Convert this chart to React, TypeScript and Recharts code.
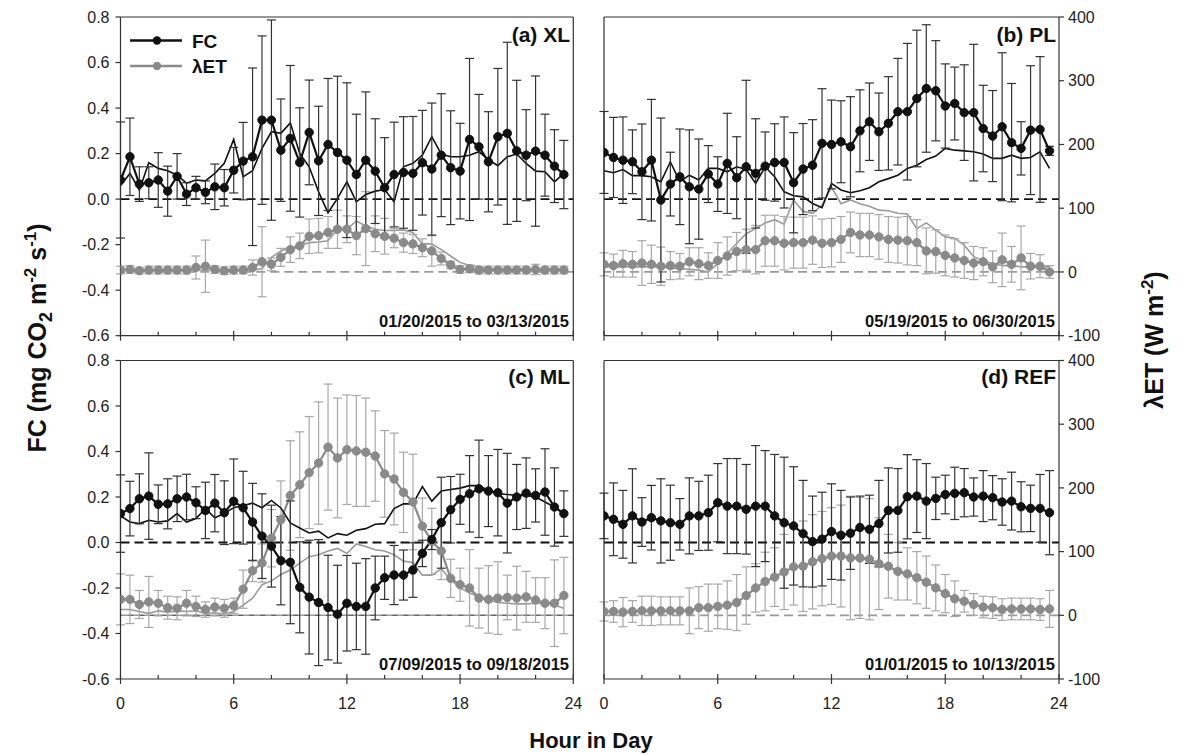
import React from "react";
import { ComposedChart, Line, XAxis, YAxis, ErrorBar, ReferenceLine } from "recharts";

// half-hourly bins of the mean diurnal course
const HOURS = [
  0, 0.5, 1, 1.5, 2, 2.5, 3, 3.5, 4, 4.5, 5, 5.5, 6, 6.5, 7, 7.5, 8, 8.5, 9, 9.5, 10, 10.5, 11, 11.5,
  12, 12.5, 13, 13.5, 14, 14.5, 15, 15.5, 16, 16.5, 17, 17.5, 18, 18.5, 19, 19.5, 20, 20.5, 21, 21.5,
  22, 22.5, 23, 23.5,
];

const HOUR_TICKS = [0, 2, 4, 6, 8, 10, 12, 14, 16, 18, 20, 22, 24];
const FC_TICKS = [-0.6, -0.4, -0.2, 0, 0.2, 0.4, 0.6, 0.8];
const ET_TICKS = [-100, 0, 100, 200, 300, 400];

// (a) XL
const XL_FC = [0.084, 0.186, 0.066, 0.072, 0.084, 0.035, 0.1, 0.022, 0.05, 0.03, 0.054, 0.05, 0.127, 0.167, 0.186, 0.347, 0.347, 0.215, 0.267, 0.161, 0.293, 0.168, 0.24, 0.205, 0.171, 0.108, 0.171, 0.123, 0.05, 0.108, 0.117, 0.113, 0.16, 0.132, 0.193, 0.138, 0.123, 0.262, 0.23, 0.164, 0.274, 0.289, 0.212, 0.193, 0.211, 0.193, 0.145, 0.108];
const XL_FC_SD = [0.255, 0.17, 0.076, 0.07, 0.12, 0.11, 0.1, 0.05, 0.05, 0.05, 0.1, 0.08, 0.1, 0.17, 0.39, 0.37, 0.44, 0.225, 0.32, 0.24, 0.23, 0.24, 0.29, 0.335, 0.34, 0.265, 0.3, 0.23, 0.22, 0.23, 0.245, 0.25, 0.23, 0.29, 0.27, 0.25, 0.21, 0.356, 0.23, 0.22, 0.3, 0.4, 0.31, 0.2, 0.33, 0.18, 0.16, 0.15];
const XL_FC_ALT = [0.06, 0.113, 0.04, 0.16, 0.135, 0.125, 0.105, 0.07, 0.084, 0.08, 0.113, 0.157, 0.262, 0.098, 0.125, 0.223, 0.296, 0.289, 0.335, 0.2, 0.142, 0.032, -0.06, 0.003, 0.076, -0.012, 0.02, 0.035, 0.042, -0.012, 0.142, 0.157, 0.193, 0.274, 0.198, 0.186, 0.186, 0.193, 0.208, 0.174, 0.147, 0.186, 0.198, 0.157, 0.123, 0.12, 0.076, 0.113];
const XL_ET = [3, 4, 2, 3, 3, 3, 3, 3, 7, 9, 4, 2, 3, 3, 7, 16, 12, 23, 35, 41, 56, 57, 62, 67, 67, 57, 68, 60, 56, 53, 46, 44, 38, 33, 21, 11, 4, 5, 3, 3, 3, 3, 3, 3, 4, 3, 3, 3];
const XL_ET_SD = [6, 6, 5, 6, 6, 6, 6, 6, 18, 41, 6, 6, 6, 6, 12, 55, 10, 14, 20, 20, 27, 27, 25, 30, 21, 30, 58, 28, 28, 15, 15, 15, 14, 24, 10, 6, 6, 6, 6, 6, 6, 6, 6, 6, 8, 6, 6, 6];
const XL_ET_ALT = [3, 3, 3, 3, 3, 3, 3, 3, 3, 3, 3, 3, 3, 3, 3, 5, 23, 33, 38, 41, 46, 47, 49, 67, 67, 80, 72, 67, 65, 65, 66, 62, 44, 44, 35, 25, 15, 10, 8, 5, 5, 5, 5, 5, 5, 5, 5, 5];

// (b) PL
const PL_FC = [0.205, 0.183, 0.171, 0.164, 0.12, 0.171, -0.004, 0.066, 0.098, 0.054, 0.044, 0.11, 0.066, 0.157, 0.094, 0.142, 0.113, 0.145, 0.161, 0.161, 0.072, 0.132, 0.149, 0.245, 0.24, 0.252, 0.23, 0.3, 0.34, 0.296, 0.333, 0.384, 0.384, 0.442, 0.486, 0.476, 0.409, 0.42, 0.38, 0.38, 0.31, 0.277, 0.318, 0.248, 0.223, 0.303, 0.306, 0.212];
const PL_FC_SD = [0.18, 0.176, 0.19, 0.14, 0.21, 0.267, 0.36, 0.14, 0.21, 0.25, 0.22, 0.125, 0.12, 0.22, 0.18, 0.38, 0.24, 0.15, 0.17, 0.2, 0.22, 0.2, 0.2, 0.24, 0.195, 0.18, 0.22, 0.18, 0.17, 0.17, 0.205, 0.234, 0.3, 0.3, 0.28, 0.22, 0.185, 0.16, 0.21, 0.3, 0.19, 0.2, 0.325, 0.26, 0.117, 0.283, 0.32, 0.02];
const PL_FC_ALT = [0.125, 0.116, 0.13, 0.103, 0.103, 0.098, 0.076, 0.164, 0.076, 0.105, 0.084, 0.135, 0.135, 0.12, 0.142, 0.13, 0.069, 0.142, 0.098, 0.032, 0.015, 0.01, -0.019, -0.038, 0.069, 0.04, 0.028, 0.037, 0.05, 0.076, 0.09, 0.105, 0.135, 0.149, 0.174, 0.189, 0.223, 0.215, 0.212, 0.208, 0.198, 0.179, 0.179, 0.193, 0.179, 0.183, 0.208, 0.135];
const PL_ET = [12, 10, 13, 12, 14, 12, 9, 10, 9, 16, 13, 10, 18, 25, 32, 35, 35, 49, 49, 45, 46, 46, 50, 45, 46, 51, 62, 58, 58, 55, 51, 50, 49, 46, 33, 32, 26, 22, 18, 14, 16, 8, 19, 12, 22, 9, 9, 0];
const PL_ET_SD = [18, 18, 21, 20, 35, 30, 30, 22, 20, 22, 25, 20, 28, 30, 30, 32, 38, 40, 40, 42, 40, 40, 38, 38, 38, 36, 32, 34, 34, 35, 36, 36, 38, 36, 36, 34, 32, 30, 28, 26, 22, 25, 42, 28, 50, 20, 18, 10];
const PL_ET_ALT = [8, 8, 8, 8, 8, 8, 8, 6, 5, 4, 3, 0, 13, 29, 45, 60, 68, 77, 82, 75, 113, 95, 92, 105, 133, 107, 113, 107, 103, 97, 96, 92, 91, 68, 77, 66, 55, 53, 42, 24, 18, 13, 10, 10, 8, 8, 8, 8];

// (c) ML
const ML_FC = [0.127, 0.149, 0.192, 0.204, 0.168, 0.17, 0.192, 0.2, 0.175, 0.141, 0.173, 0.131, 0.181, 0.153, 0.09, 0.028, -0.016, -0.08, -0.087, -0.197, -0.24, -0.264, -0.286, -0.315, -0.267, -0.281, -0.281, -0.2, -0.155, -0.143, -0.143, -0.121, -0.048, 0.013, 0.087, 0.144, 0.19, 0.214, 0.236, 0.226, 0.219, 0.173, 0.2, 0.217, 0.207, 0.222, 0.156, 0.127];
const ML_FC_SD = [0.17, 0.12, 0.11, 0.19, 0.085, 0.11, 0.1, 0.1, 0.07, 0.124, 0.126, 0.14, 0.186, 0.16, 0.17, 0.186, 0.18, 0.194, 0.27, 0.2, 0.25, 0.277, 0.23, 0.215, 0.21, 0.19, 0.21, 0.14, 0.095, 0.13, 0.11, 0.12, 0.058, 0.044, 0.2, 0.146, 0.11, 0.168, 0.214, 0.156, 0.19, 0.219, 0.143, 0.155, 0.117, 0.19, 0.172, 0.1];
const ML_FC_ALT = [0.117, 0.09, 0.083, 0.098, 0.09, 0.095, 0.127, 0.09, 0.105, 0.149, 0.109, 0.127, 0.153, 0.163, 0.173, 0.153, 0.185, 0.152, 0.086, 0.064, 0.042, 0.05, 0.02, 0.039, 0.032, 0.054, 0.061, 0.08, 0.083, 0.149, 0.17, 0.17, 0.246, 0.182, 0.226, 0.233, 0.239, 0.25, 0.25, 0.229, 0.214, 0.211, 0.207, 0.207, 0.2, 0.178, 0.156, 0.127];
const ML_ET = [25, 25, 17, 21, 19, 12, 11, 19, 14, 9, 13, 11, 15, 41, 70, 82, 121, 150, 188, 205, 224, 239, 264, 247, 260, 258, 256, 250, 222, 214, 193, 178, 140, 116, 101, 58, 48, 43, 27, 25, 27, 28, 27, 29, 24, 19, 19, 31];
const ML_ET_SD = [40, 38, 22, 40, 20, 18, 18, 20, 16, 12, 14, 14, 12, 30, 17, 30, 45, 61, 86, 83, 88, 96, 99, 94, 86, 87, 85, 71, 68, 72, 63, 75, 44, 52, 45, 30, 26, 60, 47, 53, 57, 35, 50, 40, 35, 40, 68, 60];
const ML_ET_ALT = [9, 9, 6, 3, 7, 5, 7, 6, 7, 3, 4, 2, 6, 16, 27, 48, 54, 64, 71, 82, 92, 95, 101, 105, 97, 112, 108, 103, 101, 95, 85, 83, 63, 63, 73, 56, 43, 35, 29, 24, 20, 19, 18, 18, 19, 19, 16, 11];

// (d) REF
const REF_FC = [0.117, 0.102, 0.08, 0.117, 0.09, 0.109, 0.095, 0.087, 0.08, 0.117, 0.117, 0.131, 0.175, 0.16, 0.16, 0.146, 0.16, 0.16, 0.117, 0.087, 0.073, 0.039, 0.004, 0.015, 0.048, 0.032, 0.041, 0.066, 0.058, 0.083, 0.141, 0.141, 0.201, 0.204, 0.182, 0.194, 0.211, 0.216, 0.219, 0.2, 0.204, 0.197, 0.178, 0.182, 0.157, 0.15, 0.15, 0.131];
const REF_FC_SD = [0.1, 0.16, 0.149, 0.207, 0.107, 0.142, 0.185, 0.165, 0.113, 0.167, 0.152, 0.165, 0.172, 0.209, 0.209, 0.197, 0.266, 0.244, 0.27, 0.288, 0.26, 0.234, 0.2, 0.206, 0.21, 0.197, 0.159, 0.138, 0.15, 0.19, 0.187, 0.184, 0.185, 0.16, 0.165, 0.093, 0.085, 0.115, 0.106, 0.084, 0.112, 0.097, 0.102, 0.127, 0.11, 0.102, 0.149, 0.185];
const REF_ET = [6, 6, 5, 6, 7, 7, 7, 7, 7, 7, 12, 12, 14, 16, 20, 31, 43, 53, 60, 68, 76, 77, 84, 89, 93, 93, 90, 90, 88, 81, 77, 69, 65, 59, 52, 43, 34, 26, 22, 17, 13, 12, 9, 10, 10, 10, 9, 10];
const REF_ET_SD = [15, 17, 23, 17, 23, 23, 22, 22, 22, 36, 33, 37, 35, 38, 44, 45, 38, 46, 46, 59, 60, 71, 74, 74, 76, 80, 97, 95, 95, 72, 50, 45, 41, 41, 41, 36, 30, 28, 17, 17, 17, 17, 17, 17, 17, 17, 17, 29];

const W = 1178;
const H = 755;
const AXIS = "#333";
const FONT = "'Liberation Sans', Arial, Helvetica, sans-serif";
const TICK_STYLE = { fontSize: 16, fill: "#222", fontFamily: FONT };

// widths reserved by each axis, subtracted from the margins so the plot box lands on `box`
const LABEL_AXIS = 50;
const BARE_AXIS = 1;
const X_AXIS_H = 40;

type Box = { left: number; top: number; right: number; bottom: number };

function HourTick({ x, value, base, label }: { x: number; value: number; base: number; label: boolean }) {
  const major = value % 6 === 0;
  return (
    <g>
      <line x1={x} x2={x} y1={base - (major ? 5 : 4)} y2={major ? base + 5 : base} stroke={AXIS} strokeWidth={1.2} />
      {label && major && (
        <text x={x} y={base + 30} textAnchor="middle" fontSize={16} fill="#222" fontFamily={FONT}>
          {value}
        </text>
      )}
    </g>
  );
}

type PanelProps = {
  box: Box;
  side: "left" | "right";
  hourLabels: boolean;
  fc: number[];
  fcSd: number[];
  fcAlt?: number[];
  et: number[];
  etSd: number[];
  etAlt?: number[];
  solidEtZero?: boolean;
};

function Panel(p: PanelProps) {
  const { box } = p;
  const rows = HOURS.map((h, i) => ({
    h,
    fc: p.fc[i],
    fcSd: p.fcSd[i],
    fcAlt: p.fcAlt ? p.fcAlt[i] : undefined,
    et: p.et[i],
    etSd: p.etSd[i],
    etAlt: p.etAlt ? p.etAlt[i] : undefined,
  }));
  const fcW = p.side === "left" ? LABEL_AXIS : BARE_AXIS;
  const etW = p.side === "right" ? LABEL_AXIS : BARE_AXIS;

  return (
    <div style={{ position: "absolute", left: 0, top: 0 }}>
      <ComposedChart
        width={W}
        height={H}
        data={rows}
        margin={{
          top: box.top,
          left: box.left - fcW,
          right: W - box.right - etW,
          bottom: H - box.bottom - X_AXIS_H,
        }}
      >
        <XAxis
          dataKey="h"
          type="number"
          domain={[0, 24]}
          ticks={HOUR_TICKS}
          interval={0}
          allowDataOverflow
          height={X_AXIS_H}
          tickSize={0}
          tickLine={false}
          axisLine={{ stroke: AXIS, strokeWidth: 1.2 }}
          tick={(t: any) => <HourTick x={t.x} value={t.payload.value} base={box.bottom} label={p.hourLabels} />}
        />
        <YAxis
          yAxisId="fc"
          orientation="left"
          width={fcW}
          type="number"
          domain={[-0.6, 0.8]}
          ticks={FC_TICKS}
          interval={0}
          allowDataOverflow
          tickSize={p.side === "left" ? 5 : -5}
          tickMargin={6}
          tickLine={{ stroke: AXIS, strokeWidth: 1.2 }}
          axisLine={{ stroke: AXIS, strokeWidth: 1.2 }}
          tick={p.side === "left" ? TICK_STYLE : false}
          tickFormatter={(v: number) => v.toFixed(1)}
        />
        <YAxis
          yAxisId="et"
          orientation="right"
          width={etW}
          type="number"
          domain={[-100, 400]}
          ticks={ET_TICKS}
          interval={0}
          allowDataOverflow
          tickSize={p.side === "right" ? 5 : -5}
          tickMargin={4}
          tickLine={{ stroke: AXIS, strokeWidth: 1.2 }}
          axisLine={{ stroke: AXIS, strokeWidth: 1.2 }}
          tick={p.side === "right" ? TICK_STYLE : false}
        />

        {/* frame top and the two zero lines */}
        <ReferenceLine yAxisId="fc" y={0.8} stroke={AXIS} strokeWidth={1.2} />
        {p.solidEtZero ? (
          <ReferenceLine yAxisId="et" y={0} stroke="#9a9a9a" strokeWidth={1.6} />
        ) : (
          <ReferenceLine yAxisId="et" y={0} stroke="#9a9a9a" strokeWidth={1.8} strokeDasharray="9 5" />
        )}
        {p.solidEtZero && <ReferenceLine yAxisId="et" y={0} stroke="#555" strokeWidth={1} strokeDasharray="5 6" />}
        <ReferenceLine yAxisId="fc" y={0} stroke="#111" strokeWidth={1.8} strokeDasharray="9 5" />

        {p.etAlt && (
          <Line yAxisId="et" dataKey="etAlt" type="linear" stroke="#9a9a9a" strokeWidth={1.6} dot={false} activeDot={false} isAnimationActive={false} />
        )}
        <Line
          yAxisId="et"
          dataKey="et"
          type="linear"
          stroke="#8a8a8a"
          strokeWidth={2.2}
          dot={{ r: 4.2, fill: "#8a8a8a", stroke: "#8a8a8a", strokeWidth: 1 }}
          activeDot={false}
          isAnimationActive={false}
        >
          <ErrorBar dataKey="etSd" width={4.5} stroke="#a8a8a8" strokeWidth={1.2} isAnimationActive={false} />
        </Line>
        {p.fcAlt && (
          <Line yAxisId="fc" dataKey="fcAlt" type="linear" stroke="#111" strokeWidth={1.6} dot={false} activeDot={false} isAnimationActive={false} />
        )}
        <Line
          yAxisId="fc"
          dataKey="fc"
          type="linear"
          stroke="#111"
          strokeWidth={2.2}
          dot={{ r: 4.2, fill: "#111", stroke: "#111", strokeWidth: 1 }}
          activeDot={false}
          isAnimationActive={false}
        >
          <ErrorBar dataKey="fcSd" width={4.5} stroke="#333" strokeWidth={1.2} isAnimationActive={false} />
        </Line>
      </ComposedChart>
    </div>
  );
}

const TOP_LEFT: Box = { left: 120.5, top: 17, right: 573.3, bottom: 335.7 };
const TOP_RIGHT: Box = { left: 604, top: 17, right: 1059, bottom: 335.7 };
const BOTTOM_LEFT: Box = { left: 120.5, top: 360.5, right: 573.3, bottom: 679 };
const BOTTOM_RIGHT: Box = { left: 604, top: 360.5, right: 1059, bottom: 679 };

function Annotations() {
  const bold = { fontFamily: FONT, fontWeight: 700, fill: "#111" } as const;
  return (
    <svg width={W} height={H} style={{ position: "absolute", left: 0, top: 0, pointerEvents: "none" }}>
      {/* legend */}
      <line x1={130} x2={182} y1={40.5} y2={40.5} stroke="#111" strokeWidth={2.4} />
      <circle cx={157} cy={40.5} r={4.2} fill="#111" />
      <text x={192} y={48} fontSize={19} {...bold}>FC</text>
      <line x1={130} x2={182} y1={66} y2={66} stroke="#8a8a8a" strokeWidth={2.4} />
      <circle cx={157} cy={66} r={4.2} fill="#8a8a8a" />
      <text x={192} y={73} fontSize={19} {...bold}>λET</text>

      {/* panel names and periods */}
      <text x={570} y={42} fontSize={21} textAnchor="end" {...bold}>(a) XL</text>
      <text x={1056} y={42} fontSize={21} textAnchor="end" {...bold}>(b) PL</text>
      <text x={570} y={384} fontSize={21} textAnchor="end" {...bold}>(c) ML</text>
      <text x={1056} y={384} fontSize={21} textAnchor="end" {...bold}>(d) REF</text>
      <text x={569} y={327} fontSize={16.5} textAnchor="end" {...bold}>01/20/2015 to 03/13/2015</text>
      <text x={1055} y={327} fontSize={16.5} textAnchor="end" {...bold}>05/19/2015 to 06/30/2015</text>
      <text x={569} y={670} fontSize={16.5} textAnchor="end" {...bold}>07/09/2015 to 09/18/2015</text>
      <text x={1055} y={670} fontSize={16.5} textAnchor="end" {...bold}>01/01/2015 to 10/13/2015</text>

      {/* axis titles */}
      <text transform="translate(46,338) rotate(-90)" textAnchor="middle" fontSize={25} {...bold}>
        FC (mg CO<tspan dy={6} fontSize={18}>2</tspan>
        <tspan dy={-6}> m</tspan>
        <tspan dy={-10} fontSize={17}>-2</tspan>
        <tspan dy={10}> s</tspan>
        <tspan dy={-10} fontSize={17}>-1</tspan>
        <tspan dy={10}>)</tspan>
      </text>
      <text transform="translate(1163,340) rotate(-90)" textAnchor="middle" fontSize={25} {...bold}>
        λET (W m<tspan dy={-10} fontSize={17}>-2</tspan>
        <tspan dy={10}>)</tspan>
      </text>
      <text x={591} y={748} textAnchor="middle" fontSize={22} {...bold}>Hour in Day</text>
    </svg>
  );
}

export default function App() {
  return (
    <div style={{ position: "absolute", left: 0, top: 0, width: W, height: H, background: "#fff" }}>
      <Panel box={TOP_LEFT} side="left" hourLabels={false} fc={XL_FC} fcSd={XL_FC_SD} fcAlt={XL_FC_ALT} et={XL_ET} etSd={XL_ET_SD} etAlt={XL_ET_ALT} />
      <Panel box={TOP_RIGHT} side="right" hourLabels={false} fc={PL_FC} fcSd={PL_FC_SD} fcAlt={PL_FC_ALT} et={PL_ET} etSd={PL_ET_SD} etAlt={PL_ET_ALT} />
      <Panel box={BOTTOM_LEFT} side="left" hourLabels fc={ML_FC} fcSd={ML_FC_SD} fcAlt={ML_FC_ALT} et={ML_ET} etSd={ML_ET_SD} etAlt={ML_ET_ALT} solidEtZero />
      <Panel box={BOTTOM_RIGHT} side="right" hourLabels fc={REF_FC} fcSd={REF_FC_SD} et={REF_ET} etSd={REF_ET_SD} />
      <Annotations />
    </div>
  );
}
